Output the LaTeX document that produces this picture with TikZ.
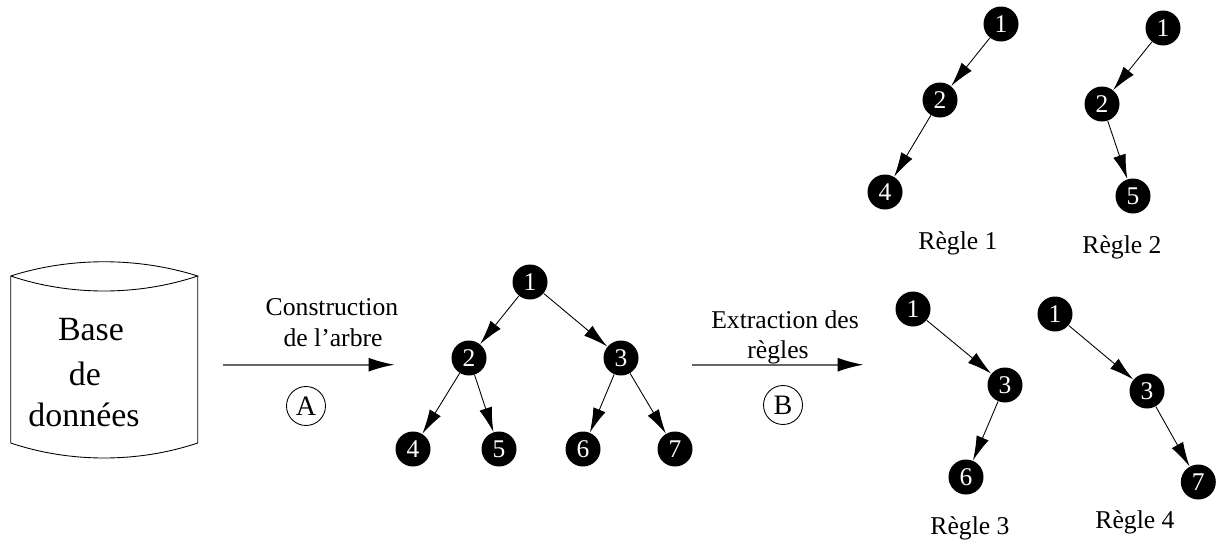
\documentclass[tikz,border=0pt]{standalone}
\usepackage{fontspec}
\setmainfont{Liberation Serif}
\usetikzlibrary{arrows.meta}
\def\pix{0.02cm}

\begin{document}
\begin{tikzpicture}[x=\pix, y=-\pix, line width=0.5pt,
	treeNode/.style={circle, fill=black, text=white, minimum size=35*\pix, inner sep=0pt, font=\fontsize{14.5}{16}\selectfont},
	edgeArrow/.style={-{Latex[length=0.49cm, width=0.26cm]}},
	mainArrow/.style={-{Latex[length=0.52cm, width=0.28cm, black]}, line width=1pt, draw=black!60},
	stepMark/.style={circle, draw, minimum size=39*\pix, inner sep=0pt, font=\fontsize{16}{18}\selectfont},
	bigText/.style={font=\fontsize{19.3}{22}\selectfont, inner sep=0pt},
	smallText/.style={font=\fontsize{14.6}{16}\selectfont, inner sep=0pt}]

	\useasboundingbox (0,0) rectangle (1216,541);

	% base de donnees
	\draw (10.7,276) -- (10.7,443) .. controls (70,463) and (138,463) .. (197.7,443) -- (197.7,276);
	\draw (10.7,276) .. controls (70,257) and (138,257) .. (197.7,276) .. controls (138,296) and (70,296) .. (10.7,276);
	\node[bigText] (base) at (91,330) {Base};
	\node[bigText] (de) at (85,374) {de};
	\node[bigText] (donnees) at (84,415) {données};

	% etape A
	\coordinate (A1) at (223,364.7);
	\coordinate (A2) at (394.5,364.7);
	\draw[mainArrow] (A1) -- (A2);
	\node[smallText] (constr) at (332,307) {Construction};
	\node[smallText] (arbre) at (333,338) {de l'arbre};
	\node[stepMark] (stepA) at (306,406) {A};

	% arbre
	\node[treeNode] (t1) at (530,282) {1};
	\node[treeNode] (t2) at (469,358) {2};
	\node[treeNode] (t3) at (621,358) {3};
	\node[treeNode] (t4) at (413,449) {4};
	\node[treeNode] (t5) at (499,449) {5};
	\node[treeNode] (t6) at (583,449) {6};
	\node[treeNode] (t7) at (675,449) {7};
	\draw[edgeArrow] (t1) -- (t2);
	\draw[edgeArrow] (t1) -- (t3);
	\draw[edgeArrow] (t2) -- (t4);
	\draw[edgeArrow] (t2) -- (t5);
	\draw[edgeArrow] (t3) -- (t6);
	\draw[edgeArrow] (t3) -- (t7);

	% etape B
	\coordinate (B1) at (692,364.7);
	\coordinate (B2) at (863.5,364.7);
	\draw[mainArrow] (B1) -- (B2);
	\node[smallText] (extr) at (785,320) {Extraction des};
	\node[smallText] (regles) at (778,352) {règles};
	\node[stepMark] (stepB) at (783,405) {B};

	% regle 1
	\node[treeNode] (a1) at (1001,24) {1};
	\node[treeNode] (a2) at (940,100) {2};
	\node[treeNode] (a4) at (885,192) {4};
	\draw[edgeArrow] (a1) -- (a2);
	\draw[edgeArrow] (a2) -- (a4);
	\node[smallText] (r1) at (958,243) {Règle 1};

	% regle 2
	\node[treeNode] (b1) at (1163,28) {1};
	\node[treeNode] (b2) at (1102,104) {2};
	\node[treeNode] (b5) at (1133,196) {5};
	\draw[edgeArrow] (b1) -- (b2);
	\draw[edgeArrow] (b2) -- (b5);
	\node[smallText] (r2) at (1122,247) {Règle 2};

	% regle 3
	\node[treeNode] (c1) at (913,309) {1};
	\node[treeNode] (c3) at (1005,385) {3};
	\node[treeNode] (c6) at (966,477) {6};
	\draw[edgeArrow] (c1) -- (c3);
	\draw[edgeArrow] (c3) -- (c6);
	\node[smallText] (r3) at (970,528) {Règle 3};

	% regle 4
	\node[treeNode] (d1) at (1055,314) {1};
	\node[treeNode] (d3) at (1147,391) {3};
	\node[treeNode] (d7) at (1198.3,482) {7};
	\draw[edgeArrow] (d1) -- (d3);
	\draw[edgeArrow] (d3) -- (d7);
	\node[smallText] (r4) at (1135,522) {Règle 4};

\end{tikzpicture}
\end{document}
